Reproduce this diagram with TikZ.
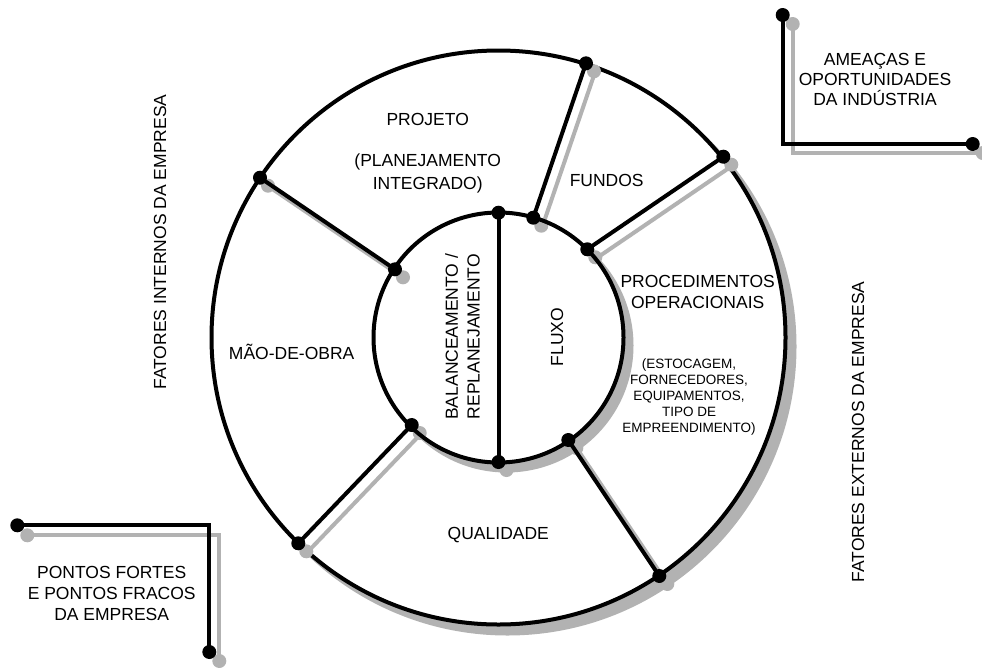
\documentclass[tikz,border=0pt]{standalone}
\usepackage{fontspec}
\setmainfont{Liberation Sans}
\usetikzlibrary{calc}
\definecolor{shc}{gray}{0.7}
\begin{document}
\begin{tikzpicture}[x=1pt,y=-1pt,
  ln/.style={line width=4pt, draw=black},
  sh/.style={line width=4pt, draw=shc},
  dot/.style={circle, fill=black, inner sep=0pt, minimum size=14pt},
  sdot/.style={circle, fill=shc, inner sep=0pt, minimum size=14pt},
  big/.style={font=\fontsize{17.5}{21}\selectfont, align=center, inner sep=0pt},
  small/.style={font=\fontsize{13.5}{16}\selectfont, align=center, inner sep=0pt}]
\useasboundingbox (0,0) rectangle (982,667);
% centre
\coordinate (C) at (498.5,337.5);
% outer circle with drop shadow
\fill[shc] ($(C)+(9,9)$) circle[radius=289pt];
\filldraw[fill=white, ln] (C) circle[radius=287pt];
% inner circle shadow
\fill[shc] ($(C)+(8,8)$) circle[radius=127pt];
% node positions
\coordinate (o1) at (260,177.7);
\coordinate (o2) at (586,63.3);
\coordinate (o3) at (723.3,156.7);
\coordinate (o4) at (659.3,576);
\coordinate (o5) at (298.3,543.3);
\coordinate (i1) at (395,269.3);
\coordinate (i2) at (533.3,217.7);
\coordinate (i3) at (587.3,249.3);
\coordinate (i4) at (568.3,440);
\coordinate (i5) at (411.7,425);
\coordinate (it) at (498.5,212.7);
\coordinate (ib) at (498.5,462);
% radial line shadows
\foreach \a/\b in {o1/i1,o2/i2,o3/i3,o4/i4,o5/i5}
  \draw[sh] ($(\a)+(9,9)$) -- ($(\b)+(9,9)$);
% inner disc
\fill[white] (C) circle[radius=125pt];
% dot shadows
\foreach \p in {o1,o2,o3,o4,o5,i1,i2,i3,i4,i5,ib}
  \node[sdot] at ($(\p)+(8,8)$) {};
% black lines
\foreach \a/\b in {o1/i1,o2/i2,o3/i3,o4/i4,o5/i5}
  \draw[ln] (\a) -- (\b);
\draw[ln] (C) circle[radius=125pt];
\draw[ln] (it) -- (ib);
% dots
\foreach \p in {o1,o2,o3,o4,o5,i1,i2,i3,i4,i5,it,ib}
  \node[dot] (d\p) at (\p) {};
% ---- corner brackets ----
\coordinate (b2) at (782.7,144);
\coordinate (c2) at (209.3,525.3);
\node[sdot] (sb1) at (792.7,24) {};
\node[sdot] (sb3) at (982.7,153) {};
\coordinate (sb2) at (792.7,153);
\draw[sh] (sb1.center) -- (sb2) -- (sb3.center);
\node[sdot] (sc1) at (27.3,535.3) {};
\node[sdot] (sc3) at (219.3,661) {};
\coordinate (sc2) at (219.3,535.3);
\draw[sh] (sc1.center) -- (sc2) -- (sc3.center);
\node[dot] (b1) at (782.7,15) {};
\node[dot] (b3) at (972.7,144) {};
\draw[ln] (b1.center) -- (b2) -- (b3.center);
\node[dot] (c1) at (17.3,525.3) {};
\node[dot] (c3) at (209.3,652) {};
\draw[ln] (c1.center) -- (c2) -- (c3.center);
% ---- texts ----
\node[big] (tproj) at (427.7,119.3) {PROJETO};
\node[big, font=\fontsize{17.5}{23.3}\selectfont] (tplan) at (427.7,173.3) {(PLANEJAMENTO\\INTEGRADO)};
\node[big] (tfund) at (606.7,180.7) {FUNDOS};
\node[big, font=\fontsize{17.5}{20.6}\selectfont] (tproc) at (697.7,292) {PROCEDIMENTOS\\OPERACIONAIS};
\node[small] (test) at (689,397) {(ESTOCAGEM,\\FORNECEDORES,\\EQUIPAMENTOS,\\TIPO DE\\EMPREENDIMENTO)};
\node[big] (tmao) at (291.7,351.7) {MÃO-DE-OBRA};
\node[big] (tqual) at (498.3,535) {QUALIDADE};
\node[big, rotate=90] (tflux) at (557,337) {FLUXO};
\node[big, rotate=90, font=\fontsize{17.5}{21.6}\selectfont] (tbal) at (462.5,336.7) {BALANCEAMENTO /\\REPLANEJAMENTO};
\node[big, font=\fontsize{17.5}{20.2}\selectfont] (tame) at (875,79.5) {AMEAÇAS E\\OPORTUNIDADES\\DA INDÚSTRIA};
\node[big, font=\fontsize{17.5}{20.8}\selectfont] (tpon) at (111.7,593.5) {PONTOS FORTES\\E PONTOS FRACOS\\DA EMPRESA};
\node[big, rotate=90] (tint) at (160,242) {FATORES INTERNOS DA EMPRESA};
\node[big, rotate=90] (text) at (858,432) {FATORES EXTERNOS DA EMPRESA};
\end{tikzpicture}
\end{document}
